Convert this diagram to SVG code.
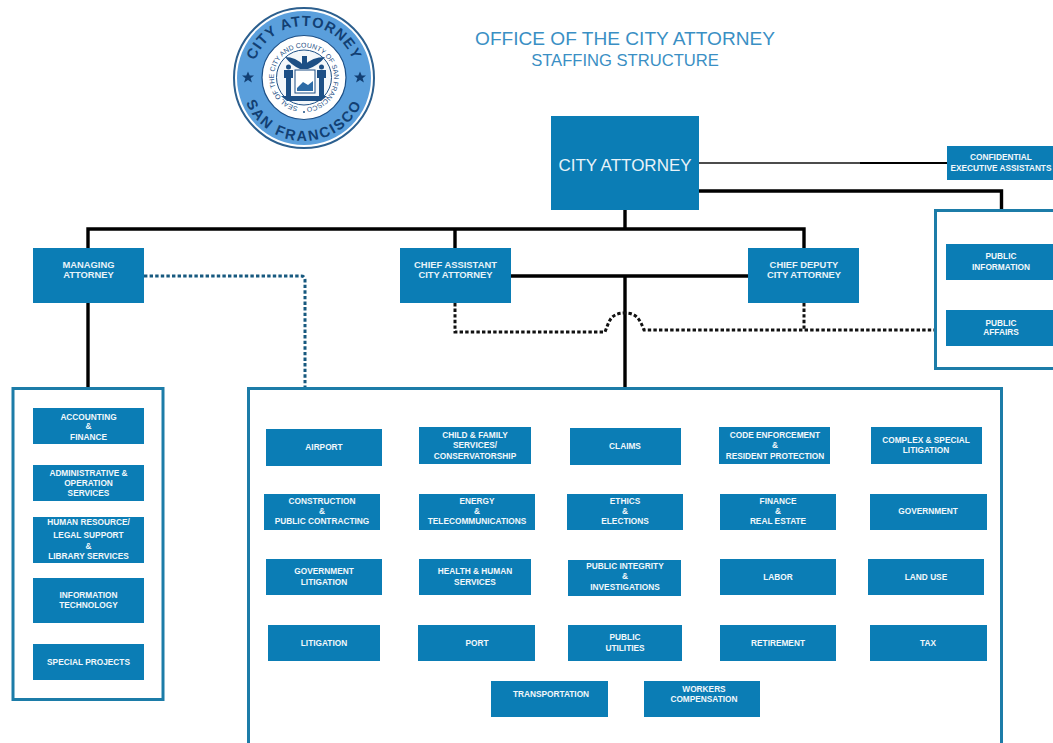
<svg xmlns="http://www.w3.org/2000/svg" width="1053" height="743" viewBox="0 0 1053 743">
<style>
text{font-family:"Liberation Sans",Arial,sans-serif}
.b{fill:#0b7db5}
.l{fill:#f2f8fb;font-size:8.3px;font-weight:700;text-anchor:middle}
.m{fill:#e8f3f9;font-size:9.4px;font-weight:700;text-anchor:middle}
.frame{fill:#fff;stroke:#1c7ca8;stroke-width:3}
.c{fill:none;stroke:#000;stroke-width:3.4}
.d{fill:none;stroke:#111;stroke-width:3;stroke-dasharray:3.4 2.2}
.t{fill:#3a8fc4;text-anchor:middle}
.s{fill:#123f73;font-weight:700}
.ink{fill:#1d4f85}
</style>
<defs>
<path id="arcTop" d="M252,78 A52,52 0 0 1 356,78"/>
<path id="arcBot" d="M241,78 A63,63 0 0 0 367,78"/>
<path id="arcIn" d="M303.900,107.500 A30,30 0 1 1 304,107.500"/>
</defs>
<rect width="1053" height="743" fill="#fff"/>

<g id="seal">
<circle cx="304" cy="78" r="70" fill="#fff" stroke="#2c5f8e" stroke-width="2"/>
<circle cx="304" cy="78" r="67" fill="#5a9fdc"/>
<circle cx="304" cy="77.500" r="42" fill="#fff" stroke="#1d4f85" stroke-width="1.2"/>
<circle cx="304" cy="77.500" r="27.500" fill="#f4f7fa" stroke="#1d4f85" stroke-width="1"/>
<text class="s" font-size="14.500" letter-spacing="1"><textPath href="#arcTop" startOffset="50%" text-anchor="middle">CITY ATTORNEY</textPath></text>
<text class="s" font-size="14.500" letter-spacing="2"><textPath href="#arcBot" startOffset="50%" text-anchor="middle">SAN FRANCISCO</textPath></text>
<text fill="#1d4f85" font-size="6.900" font-family="'Liberation Serif',serif"><textPath href="#arcIn" startOffset="6">SEAL OF THE CITY AND COUNTY OF SAN FRANCISCO</textPath></text>
<circle cx="304" cy="112" r="1" class="ink"/>
<path class="ink" d="M285,57 Q296,57 303,65 L305,65 Q312,57 325,57 Q319,65 308,69 H300 Q291,65 285,57Z"/>
<path class="ink" d="M302,56h5v10h-5z"/>
<rect x="295" y="70" width="20" height="23" fill="#fff" stroke="#1d4f85" stroke-width="1"/>
<path d="M297,88 L303,82 L308,85 L313,81 V91 H297Z" fill="#2d6ba6"/>
<path class="ink" d="M284,70h9v8h-2v19h-5v-19h-2zM317,70h9v8h-2v19h-5v-19h-2z"/>
<circle cx="288.500" cy="67" r="2.500" class="ink"/>
<circle cx="321.500" cy="67" r="2.500" class="ink"/>
<path class="ink" d="M281,96 H327 L321,101 H287Z"/>
<path fill="#123f73" d="M248,71.500l1.700,4h4.300l-3.400,2.700 1.300,4.300 -3.900,-2.500 -3.900,2.500 1.300,-4.300 -3.400,-2.700h4.300zM360,71.500l1.700,4h4.300l-3.400,2.700 1.300,4.300 -3.900,-2.500 -3.900,2.500 1.300,-4.300 -3.400,-2.700h4.300z"/>
</g>

<g id="title">
<text class="t" x="625" y="45" font-size="19.100">OFFICE OF THE CITY ATTORNEY</text>
<text class="t" x="625" y="66" font-size="16.600">STAFFING STRUCTURE</text>
</g>

<g id="connectors">
<path fill="none" stroke="#111" stroke-width="1.700" d="M699,163 H860"/>
<path fill="none" stroke="#000" stroke-width="2.200" d="M860,163 H947"/>
<path class="c" d="M699,191 H1001.500 V210"/>
<path class="c" d="M625,209 V229 M88,249 V229 H804 V249 M455,229 V249"/>
<path class="c" d="M510,276 H748 M625,276 V389"/>
<path class="c" d="M88,303 V389"/>
<path class="d" style="stroke:#17597f" d="M144,276 H301 Q305,276 305,280 V388"/>
<path class="d" d="M455,303 V332 H605 C609,322 610,313 625,313 C637,313 640,320 644,330 H936"/>
<path class="d" d="M804,303 V330"/>
</g>

<g id="frame-left"><rect class="frame" x="13" y="388.500" width="150" height="311"/></g>
<g id="frame-right"><rect class="frame" x="935.500" y="210.500" width="130" height="158"/></g>
<g id="frame-main"><rect class="frame" x="248.500" y="388.500" width="753" height="370"/></g>

<g id="city-attorney"><rect class="b" x="551" y="116" width="148" height="94"/><text x="625" y="171" fill="#e8f3f9" font-size="17" text-anchor="middle">CITY ATTORNEY</text></g>
<g id="confidential"><rect class="b" x="947" y="146" width="106" height="34"/><text class="l" x="1001" y="160">CONFIDENTIAL</text><text class="l" x="1001" y="171">EXECUTIVE ASSISTANTS</text></g>
<g id="managing"><rect class="b" x="33" y="248" width="111" height="55"/><text class="m" x="88.500" y="268">MANAGING</text><text class="m" x="88.500" y="278">ATTORNEY</text></g>
<g id="chief-assistant"><rect class="b" x="400" y="248" width="111" height="55"/><text class="m" x="455.500" y="268">CHIEF ASSISTANT</text><text class="m" x="455.500" y="278">CITY ATTORNEY</text></g>
<g id="chief-deputy"><rect class="b" x="748" y="248" width="111" height="55"/><text class="m" x="804" y="268">CHIEF DEPUTY</text><text class="m" x="804" y="278">CITY ATTORNEY</text></g>
<g id="public-info"><rect class="b" x="946" y="244" width="107" height="36"/><text class="l" x="1001" y="259">PUBLIC</text><text class="l" x="1001" y="270">INFORMATION</text></g>
<g id="public-affairs"><rect class="b" x="946" y="310" width="107" height="36"/><text class="l" x="1001" y="326">PUBLIC</text><text class="l" x="1001" y="335">AFFAIRS</text></g>

<g id="accounting"><rect class="b" x="33" y="408" width="111" height="36"/><text class="l" x="88.500" y="420">ACCOUNTING</text><text class="l" x="88.500" y="429">&amp;</text><text class="l" x="88.500" y="440">FINANCE</text></g>
<g id="administrative"><rect class="b" x="33" y="465" width="111" height="36"/><text class="l" x="88.500" y="476">ADMINISTRATIVE &amp;</text><text class="l" x="88.500" y="486">OPERATION</text><text class="l" x="88.500" y="496">SERVICES</text></g>
<g id="human-resource"><rect class="b" x="33" y="517" width="111" height="46"/><text class="l" x="88.500" y="525">HUMAN RESOURCE/</text><text class="l" x="88.500" y="538">LEGAL SUPPORT</text><text class="l" x="88.500" y="549">&amp;</text><text class="l" x="88.500" y="559">LIBRARY SERVICES</text></g>
<g id="information-technology"><rect class="b" x="33" y="578" width="111" height="45"/><text class="l" x="88.500" y="598">INFORMATION</text><text class="l" x="88.500" y="608">TECHNOLOGY</text></g>
<g id="special-projects"><rect class="b" x="33" y="644" width="111" height="36"/><text class="l" x="88.500" y="665">SPECIAL PROJECTS</text></g>

<g id="airport"><rect class="b" x="266" y="429" width="116" height="37"/><text class="l" x="324" y="450">AIRPORT</text></g>
<g id="child-family"><rect class="b" x="419" y="427" width="112" height="37"/><text class="l" x="475" y="438">CHILD &amp; FAMILY</text><text class="l" x="475" y="448">SERVICES/</text><text class="l" x="475" y="459">CONSERVATORSHIP</text></g>
<g id="claims"><rect class="b" x="570" y="428" width="111" height="37"/><text class="l" x="625" y="449">CLAIMS</text></g>
<g id="code-enforcement"><rect class="b" x="719" y="427" width="111" height="37"/><text class="l" x="775" y="438">CODE ENFORCEMENT</text><text class="l" x="775" y="448">&amp;</text><text class="l" x="775" y="459">RESIDENT PROTECTION</text></g>
<g id="complex-special"><rect class="b" x="871" y="427" width="111" height="37"/><text class="l" x="926" y="443">COMPLEX &amp; SPECIAL</text><text class="l" x="926" y="453">LITIGATION</text></g>

<g id="construction"><rect class="b" x="264" y="494" width="116" height="36"/><text class="l" x="322" y="504">CONSTRUCTION</text><text class="l" x="322" y="514">&amp;</text><text class="l" x="322" y="524">PUBLIC CONTRACTING</text></g>
<g id="energy"><rect class="b" x="419" y="494" width="116" height="36"/><text class="l" x="477" y="504">ENERGY</text><text class="l" x="477" y="514">&amp;</text><text class="l" x="477" y="524">TELECOMMUNICATIONS</text></g>
<g id="ethics"><rect class="b" x="567" y="494" width="116" height="36"/><text class="l" x="625" y="504">ETHICS</text><text class="l" x="625" y="514">&amp;</text><text class="l" x="625" y="524">ELECTIONS</text></g>
<g id="finance"><rect class="b" x="720" y="494" width="116" height="36"/><text class="l" x="778" y="504">FINANCE</text><text class="l" x="778" y="514">&amp;</text><text class="l" x="778" y="524">REAL ESTATE</text></g>
<g id="government"><rect class="b" x="870" y="494" width="117" height="36"/><text class="l" x="928" y="514">GOVERNMENT</text></g>

<g id="government-litigation"><rect class="b" x="266" y="559" width="116" height="36"/><text class="l" x="324" y="574">GOVERNMENT</text><text class="l" x="324" y="585">LITIGATION</text></g>
<g id="health"><rect class="b" x="419" y="559" width="112" height="36"/><text class="l" x="475" y="574">HEALTH &amp; HUMAN</text><text class="l" x="475" y="585">SERVICES</text></g>
<g id="public-integrity"><rect class="b" x="568" y="560" width="113" height="36"/><text class="l" x="625" y="569">PUBLIC INTEGRITY</text><text class="l" x="625" y="579">&amp;</text><text class="l" x="625" y="590">INVESTIGATIONS</text></g>
<g id="labor"><rect class="b" x="720" y="559" width="116" height="36"/><text class="l" x="778" y="580">LABOR</text></g>
<g id="land-use"><rect class="b" x="868" y="559" width="116" height="36"/><text class="l" x="926" y="580">LAND USE</text></g>

<g id="litigation"><rect class="b" x="268" y="625" width="112" height="36"/><text class="l" x="324" y="646">LITIGATION</text></g>
<g id="port"><rect class="b" x="418" y="625" width="117" height="36"/><text class="l" x="477" y="646">PORT</text></g>
<g id="public-utilities"><rect class="b" x="568" y="625" width="114" height="36"/><text class="l" x="625" y="640">PUBLIC</text><text class="l" x="625" y="651">UTILITIES</text></g>
<g id="retirement"><rect class="b" x="720" y="625" width="116" height="36"/><text class="l" x="778" y="646">RETIREMENT</text></g>
<g id="tax"><rect class="b" x="870" y="625" width="117" height="36"/><text class="l" x="928" y="646">TAX</text></g>

<g id="transportation"><rect class="b" x="491" y="681" width="117" height="36"/><text class="l" x="551" y="697">TRANSPORTATION</text></g>
<g id="workers-comp"><rect class="b" x="644" y="681" width="116" height="36"/><text class="l" x="704" y="692">WORKERS</text><text class="l" x="704" y="702">COMPENSATION</text></g>
</svg>
